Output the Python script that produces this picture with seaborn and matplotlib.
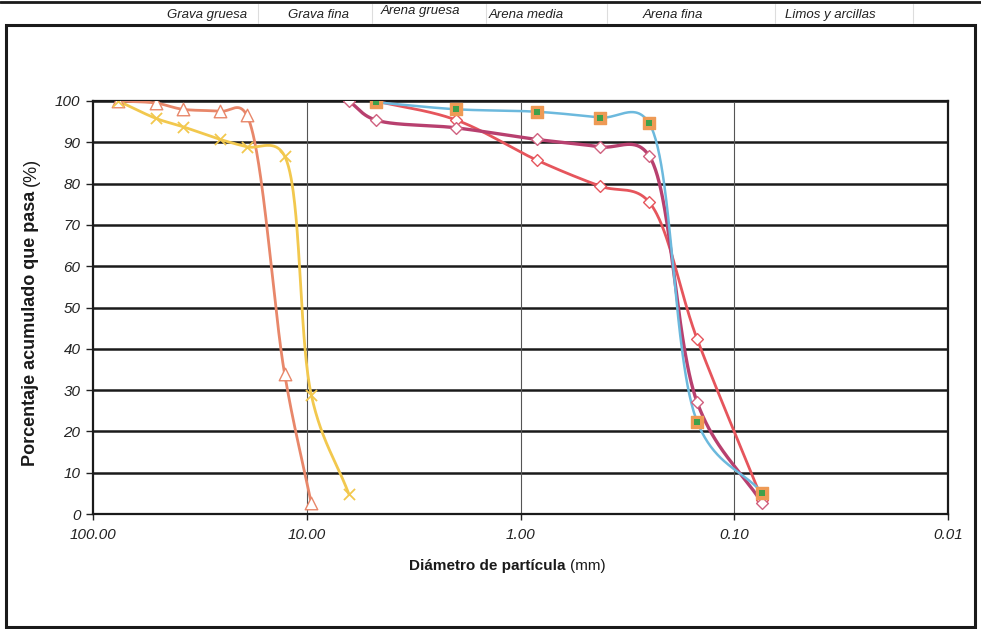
import numpy as np
import pandas as pd
import matplotlib
matplotlib.use("Agg")
import matplotlib.pyplot as plt
from matplotlib.patches import Rectangle
from matplotlib.lines import Line2D
import seaborn as sns

# Sieve openings (mm) and cumulative percent passing for each sample
grava_1_d = [76.2, 50.8, 38.1, 25.4, 19.05, 12.7, 9.52]
grava_1_p = [100, 99.5, 98, 97.5, 96.5, 34, 2.6]

grava_2_d = [76.2, 50.8, 38.1, 25.4, 19.05, 12.7, 9.52, 6.35]
grava_2_p = [100, 95.8, 93.8, 90.7, 88.9, 86.7, 28.8, 4.8]

arena_1_d = [4.76, 2.0, 0.84, 0.425, 0.25, 0.149, 0.074]
arena_1_p = [99.7, 98, 97.4, 96, 94.6, 22.3, 5.2]

arena_2_d = [6.35, 4.76, 2.0, 0.84, 0.425, 0.25, 0.149, 0.074]
arena_2_p = [100, 95.4, 93.5, 90.7, 88.9, 86.7, 27, 2.6]

arena_3_d = [4.76, 2.0, 0.84, 0.425, 0.25, 0.149, 0.074]
arena_3_p = [100, 95.4, 85.7, 79.4, 75.5, 42.3, 3.5]

x_ticks = [100, 10, 1, 0.1, 0.01]
x_tick_labels = ["100.00", "10.00", "1.00", "0.10", "0.01"]
y_ticks = list(range(0, 101, 10))

zonas = ["Grava gruesa", "Grava fina", "Arena gruesa", "Arena media", "Arena fina", "Limos y arcillas"]
zonas_x = [207, 318, 420, 526, 673, 830]
zonas_y = [15, 15, 11, 15, 15, 15]
separadores_x = [258, 372, 486, 607, 775, 913]


def suavizar(d, p, n=60, alpha=0.3):
    """Smoothed curve through the points: parametrised Catmull-Rom,
    computed in the on-screen proportions of the log axis."""
    sx, sy = 213.5, 4.13
    P = np.column_stack([np.log10(np.asarray(d, float)) * sx, np.asarray(p, float) * sy])
    P = np.vstack([2 * P[0] - P[1], P, 2 * P[-1] - P[-2]])
    out = []
    for i in range(1, len(P) - 2):
        p0, p1, p2, p3 = P[i - 1], P[i], P[i + 1], P[i + 2]
        t0 = 0.0
        t1 = t0 + np.linalg.norm(p1 - p0) ** alpha
        t2 = t1 + np.linalg.norm(p2 - p1) ** alpha
        t3 = t2 + np.linalg.norm(p3 - p2) ** alpha
        t = np.linspace(t1, t2, n)[:, None]
        a1 = (t1 - t) / (t1 - t0) * p0 + (t - t0) / (t1 - t0) * p1
        a2 = (t2 - t) / (t2 - t1) * p1 + (t - t1) / (t2 - t1) * p2
        a3 = (t3 - t) / (t3 - t2) * p2 + (t - t2) / (t3 - t2) * p3
        b1 = (t2 - t) / (t2 - t0) * a1 + (t - t0) / (t2 - t0) * a2
        b2 = (t3 - t) / (t3 - t1) * a2 + (t - t1) / (t3 - t1) * a3
        c = (t2 - t) / (t2 - t1) * b1 + (t - t1) / (t2 - t1) * b2
        out.append(c if i == 1 else c[1:])
    c = np.vstack(out)
    return pd.DataFrame({"d": 10 ** (c[:, 0] / sx), "p": c[:, 1] / sy})


sns.set_theme(style="white")
plt.rcParams["font.family"] = ["Liberation Sans", "DejaVu Sans"]

W, H = 981, 629
fig = plt.figure(figsize=(W / 100, H / 100), dpi=100)
fig.patch.set_facecolor("white")
ax = fig.add_axes([93 / W, 1 - 514 / H, (948 - 93) / W, (514 - 101) / H])
ax.set_facecolor("white")

series = [
    (grava_1_d, grava_1_p, "#e8876a", "^", "white", "#e8876a", 9, 2.0),
    (grava_2_d, grava_2_p, "#f2c84e", "x", "#f2c84e", "#f2c84e", 8, 2.0),
    (arena_3_d, arena_3_p, "#e6555c", "D", "white", "#e6555c", 6, 2.0),
    (arena_2_d, arena_2_p, "#b8406f", "D", "white", "#d0607e", 6, 2.4),
    (arena_1_d, arena_1_p, "#6cb9dd", "s", "#ee9a55", "#ee9a55", 8, 1.8),
]

# horizontal grid (heavy) and decade verticals (light)
for yv in y_ticks:
    ax.axhline(yv, color="#1a1a1a", lw=1.8, zorder=1)
for xv in [10, 1, 0.1]:
    ax.axvline(xv, color="#555555", lw=0.8, zorder=1)

for d, p, col, mk, fc, ec, ms, lw in series:
    curva = suavizar(d, p)
    sns.lineplot(data=curva, x="d", y="p", sort=False, estimator=None,
                 color=col, lw=lw, ax=ax, zorder=3)
for d, p, col, mk, fc, ec, ms, lw in series:
    pts = pd.DataFrame({"d": d, "p": p})
    if mk == "x":
        sns.scatterplot(data=pts, x="d", y="p", marker="x", color=col, s=ms ** 2,
                        linewidth=1.3, ax=ax, zorder=4)
    else:
        sns.scatterplot(data=pts, x="d", y="p", marker=mk, facecolor=fc, edgecolor=ec,
                        s=ms ** 2, linewidth=1.0, ax=ax, zorder=4)
    if mk == "s":
        sns.scatterplot(data=pts, x="d", y="p", marker="s", color="#3fa04a",
                        s=14, linewidth=0, ax=ax, zorder=5)

ax.set_xscale("log")
ax.set_xlim(100, 0.01)
ax.set_ylim(0, 100)
ax.set_xticks(x_ticks)
ax.set_xticklabels(x_tick_labels, fontstyle="italic", fontsize=11, color="#222222")
ax.set_yticks(y_ticks)
ax.set_yticklabels([str(v) for v in y_ticks], fontstyle="italic", fontsize=11, color="#222222")
ax.minorticks_off()
ax.tick_params(axis="y", left=True, length=5, width=1, color="#222222", pad=4)
ax.tick_params(axis="x", bottom=True, length=4, width=1, color="#222222", pad=6)
for s in ax.spines.values():
    s.set_color("#1a1a1a")
    s.set_linewidth(1.6)
ax.set_xlabel("")
ax.set_ylabel("")

renderer = fig.canvas.get_renderer()

# axis titles: bold name followed by regular units
xl = fig.text(0, 1 - 566 / H, "Diámetro de partícula ", fontsize=11, fontweight="bold",
              ha="left", va="center", color="#1a1a1a")
xu = fig.text(0, 1 - 566 / H, "(mm)", fontsize=11, ha="left", va="center", color="#1a1a1a")
w1 = xl.get_window_extent(renderer).width
w2 = xu.get_window_extent(renderer).width
x0 = 507 - (w1 + w2) / 2
xl.set_x(x0 / W)
xu.set_x((x0 + w1) / W)

yl = fig.text(31 / W, 0, "Porcentaje acumulado que pasa ", fontsize=13, fontweight="bold",
              rotation=90, ha="center", va="bottom", color="#1a1a1a")
yu = fig.text(31 / W, 0, "(%)", fontsize=13, rotation=90, ha="center", va="bottom",
              color="#1a1a1a")
h1 = yl.get_window_extent(renderer).height
h2 = yu.get_window_extent(renderer).height
ybot = (H - 312) - (h1 + h2) / 2
yl.set_y(ybot / H)
yu.set_y((ybot + h1) / H)

# header band with soil fraction names
for txt, xc, yc in zip(zonas, zonas_x, zonas_y):
    fig.text(xc / W, 1 - yc / H, txt, fontsize=9.5, fontstyle="italic", ha="center",
             va="center", color="#222222",
             family=["Liberation Sans Narrow", "Liberation Sans", "DejaVu Sans"])
for xs in separadores_x:
    fig.add_artist(Line2D([xs / W, xs / W], [1 - 4 / H, 1 - 23 / H], color="#dddddd", lw=0.8))
fig.add_artist(Line2D([0, 1], [1 - 1.5 / H, 1 - 1.5 / H], color="#1a1a1a", lw=2.0))

# outer frame around the chart area
fig.add_artist(Rectangle((6 / W, 1 - 627 / H), (975 - 6) / W, (627 - 25) / H,
                         fill=False, edgecolor="#1a1a1a", lw=2.2, transform=fig.transFigure))

fig.savefig("out.png", dpi=100, facecolor="white")
